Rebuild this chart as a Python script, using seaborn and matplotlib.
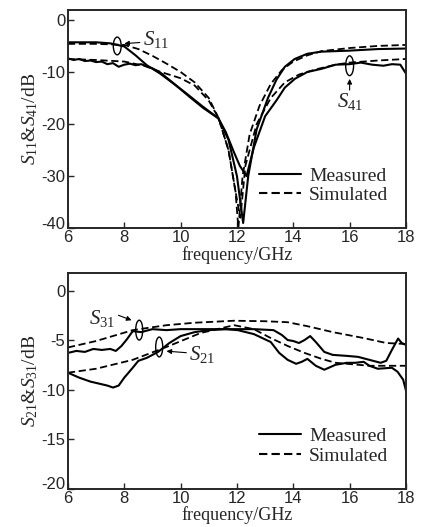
import numpy as np
import pandas as pd
import matplotlib
matplotlib.use("Agg")
import matplotlib.pyplot as plt
import matplotlib.transforms as mtransforms
import seaborn as sns
from matplotlib.patches import Ellipse

# ---- top panel: S11 / S41 ----
f_s11_meas = [6.0, 6.5, 7.0, 7.5, 8.0, 8.4, 8.8, 9.27, 9.74, 10.2, 10.8, 11.34, 11.7, 12.0, 12.22,
              12.4, 12.7, 13.1, 13.4, 13.7, 14.05, 14.5, 15.0, 16.0, 17.0, 18.0]
db_s11_meas = [-4.3, -4.3, -4.3, -4.5, -5.1, -6.8, -8.7, -10.3, -12.2, -14.1, -16.7, -18.9, -23.0, -30.0, -39.0,
               -30.0, -21.0, -15.0, -11.5, -9.0, -7.5, -6.5, -6.1, -5.9, -5.6, -5.5]

f_s41_meas = [6.0, 6.2, 6.4, 6.6, 6.8, 7.0, 7.2, 7.4, 7.6, 7.8, 8.0, 8.2, 8.4, 8.6, 8.8, 9.0, 9.3, 9.8,
              10.3, 10.8, 11.34, 11.6, 11.9, 12.1, 12.34, 12.6, 13.0, 13.41, 13.7, 14.06, 14.5, 15.0, 15.5,
              16.0, 16.4, 16.8, 17.2, 17.5, 17.8, 18.0]
db_s41_meas = [-7.4, -7.7, -7.5, -7.9, -7.8, -8.1, -8.0, -8.5, -8.3, -9.0, -8.6, -8.4, -8.7, -8.5, -8.9, -9.3, -10.2, -12.4,
               -14.7, -16.9, -18.9, -21.5, -25.5, -28.0, -30.0, -24.5, -18.5, -15.4, -13.0, -11.3, -10.0, -9.4, -8.6,
               -8.5, -8.2, -8.6, -8.8, -8.5, -8.6, -10.3]

f_s11_sim = [6.0, 7.0, 8.0, 8.5, 9.0, 9.5, 10.0, 10.5, 11.0, 11.35, 11.7, 11.95, 12.05,
             12.2, 12.45, 12.8, 13.2, 13.6, 14.0, 14.5, 15.0, 16.0, 17.0, 18.0]
db_s11_sim = [-4.6, -4.6, -4.8, -5.6, -6.9, -8.4, -10.0, -12.0, -15.0, -18.9, -25.0, -33.0, -40.0,
              -30.0, -22.0, -16.5, -12.3, -9.6, -8.0, -6.8, -6.0, -5.4, -5.0, -4.8]

f_s41_sim = [6.0, 7.0, 8.0, 8.7, 9.3, 10.0, 10.5, 11.0, 11.35, 11.7, 11.95, 12.12,
             12.3, 12.7, 13.2, 13.7, 14.2, 14.8, 15.5, 16.0, 17.0, 18.0]
db_s41_sim = [-7.5, -7.7, -8.0, -8.8, -10.0, -11.2, -12.6, -15.5, -18.9, -25.0, -33.0, -38.0,
              -28.0, -20.0, -15.0, -12.0, -10.5, -9.5, -8.6, -8.2, -7.8, -7.5]

# ---- bottom panel: S21 / S31 ----
f_s31_meas = [6.0, 6.3, 6.6, 6.9, 7.2, 7.5, 7.7, 7.9, 8.1, 8.3, 8.6, 9.0, 9.5, 10.0, 11.0, 11.9, 12.6, 13.3,
              13.6, 13.8, 14.0, 14.2, 14.4, 14.6, 14.8, 15.1, 15.4, 15.9, 16.3, 16.7, 17.1, 17.3, 17.5, 17.72, 17.85, 18.0]
db_s31_meas = [-6.3, -6.1, -6.2, -5.9, -6.0, -5.9, -6.1, -5.6, -4.9, -4.1, -4.2, -3.9, -4.0, -3.9, -3.9, -3.9, -3.9, -4.0,
               -4.5, -5.0, -5.1, -5.3, -5.0, -4.6, -5.2, -6.2, -6.5, -6.6, -6.7, -7.0, -7.3, -7.1, -6.0, -4.85, -5.3, -5.5]

f_s21_meas = [6.0, 6.4, 6.8, 7.1, 7.4, 7.6, 7.8, 8.0, 8.3, 8.5, 8.8, 9.2, 9.6, 10.0, 10.5, 11.0, 11.6, 12.03, 12.6, 13.2,
              13.5, 13.8, 14.1, 14.3, 14.5, 14.8, 15.1, 15.5, 15.9, 16.2, 16.5, 16.7, 17.0, 17.5, 17.7, 17.9, 18.0]
db_s21_meas = [-8.3, -8.8, -9.2, -9.4, -9.6, -9.8, -9.6, -8.8, -7.8, -7.1, -6.8, -6.2, -5.3, -4.6, -4.2, -4.0, -3.9, -4.0, -4.4, -5.2,
               -6.3, -7.0, -7.4, -7.2, -6.9, -7.6, -8.0, -7.5, -7.3, -7.3, -7.2, -7.6, -7.9, -7.8, -8.2, -9.0, -10.1]

f_s31_sim = [6.0, 7.0, 8.3, 9.5, 10.5, 11.9, 13.0, 13.8, 14.5, 15.4, 16.5, 17.3, 18.0]
db_s31_sim = [-5.75, -5.1, -4.0, -3.5, -3.25, -3.05, -3.1, -3.2, -3.6, -4.2, -4.8, -5.3, -5.4]

f_s21_sim = [6.0, 7.0, 8.3, 9.5, 10.7, 11.9, 12.6, 13.2, 13.8, 14.4, 15.0, 15.5, 16.7, 18.0]
db_s21_sim = [-8.3, -7.9, -7.0, -5.7, -4.3, -3.5, -3.9, -4.8, -5.6, -6.3, -6.9, -7.3, -7.6, -7.6]

sns.set_style("ticks")
plt.rcParams["mathtext.fontset"] = "custom"
plt.rcParams["mathtext.rm"] = "Liberation Serif"
plt.rcParams["mathtext.it"] = "Liberation Serif:italic"
plt.rcParams["axes.unicode_minus"] = False
plt.rcParams["font.family"] = ["Liberation Sans", "DejaVu Sans"]

fig = plt.figure(figsize=(4.22, 5.27), dpi=100)
ax1 = fig.add_axes([0.161, 0.567, 0.801, 0.414])
ax2 = fig.add_axes([0.161, 0.073, 0.801, 0.4095])

solid = dict(color="black", lw=1.5, estimator=None, sort=False)
dashed = dict(color="black", lw=1.3, estimator=None, sort=False, dashes=(4, 2))


def draw(ax, f, db, style, label=None):
    df = pd.DataFrame({"f": f, "db": db})
    sns.lineplot(data=df, x="f", y="db", ax=ax, label=label, **style)
    if "dashes" in style:
        ax.lines[-1].set_dashes(style["dashes"])


draw(ax1, f_s11_meas, db_s11_meas, solid, "Measured")
draw(ax1, f_s41_meas, db_s41_meas, solid)
draw(ax1, f_s11_sim, db_s11_sim, dashed, "Simulated")
draw(ax1, f_s41_sim, db_s41_sim, dashed)

draw(ax2, f_s31_meas, db_s31_meas, solid, "Measured")
draw(ax2, f_s21_meas, db_s21_meas, solid)
draw(ax2, f_s31_sim, db_s31_sim, dashed, "Simulated")
draw(ax2, f_s21_sim, db_s21_sim, dashed)

serif = "Liberation Serif"
for ax, ylim, yticks, ylab in [(ax1, (-40, 1.9), [0, -10, -20, -30, -40], r"$S_{11}$&$S_{41}$/dB"),
                               (ax2, (-20, 1.8), [0, -5, -10, -15, -20], r"$S_{21}$&$S_{31}$/dB")]:
    ax.set_xlim(6, 18)
    ax.set_ylim(*ylim)
    ax.set_xticks([6, 8, 10, 12, 14, 16, 18])
    ax.set_yticks(yticks)
    ax.tick_params(direction="in", length=4, width=1, labelsize=12)
    ax.tick_params(axis="x", pad=1.5)
    ax.tick_params(axis="y", pad=2)
    for t in ax.get_xticklabels() + ax.get_yticklabels():
        t.set_fontfamily("Liberation Sans")
    # lift the lowest y label a little so it clears the first x label
    low = ax.get_yticklabels()[-1]
    low.set_transform(low.get_transform() + mtransforms.ScaledTranslation(0, 4 / 72, fig.dpi_scale_trans))
    for s in ax.spines.values():
        s.set_linewidth(1.4)
    ax.set_xlabel("frequency/GHz", fontfamily=serif, fontsize=13, labelpad=0.5)
    ax.set_ylabel(ylab, fontfamily=serif, fontsize=14, labelpad=1)
    leg = ax.legend(loc="lower right", frameon=False, handlelength=2.2, handletextpad=0.4,
                    labelspacing=0.1, prop={"family": serif, "size": 14}, bbox_to_anchor=(1.0, 0.03))
    for h in leg.get_lines():
        h.set_linewidth(1.5)

# annotations: ellipses + arrows
def mark(ax, xy, w, h, label, txt_xy, arrow_from, arrow_to):
    ax.add_patch(Ellipse(xy, w, h, fill=False, lw=1.0, color="black"))
    ax.annotate("", xy=arrow_to, xytext=arrow_from,
                arrowprops=dict(arrowstyle="-|>", lw=0.8, color="black", mutation_scale=7))
    ax.text(*txt_xy, label, fontsize=15, ha="left", va="center")

mark(ax1, (7.75, -5.0), 0.28, 3.4, r"$S_{11}$", (8.65, -3.8), (8.65, -4.3), (7.9, -4.6))
mark(ax1, (16.0, -8.8), 0.28, 3.8, r"$S_{41}$", (15.55, -15.6), (16.0, -14.0), (16.0, -10.8))
mark(ax2, (8.53, -4.0), 0.25, 2.0, r"$S_{31}$", (6.75, -2.85), (7.7, -2.4), (8.35, -3.1))
mark(ax2, (9.24, -5.7), 0.25, 2.0, r"$S_{21}$", (10.3, -6.5), (10.3, -6.3), (9.4, -6.1))

fig.savefig("out.png", dpi=100)
